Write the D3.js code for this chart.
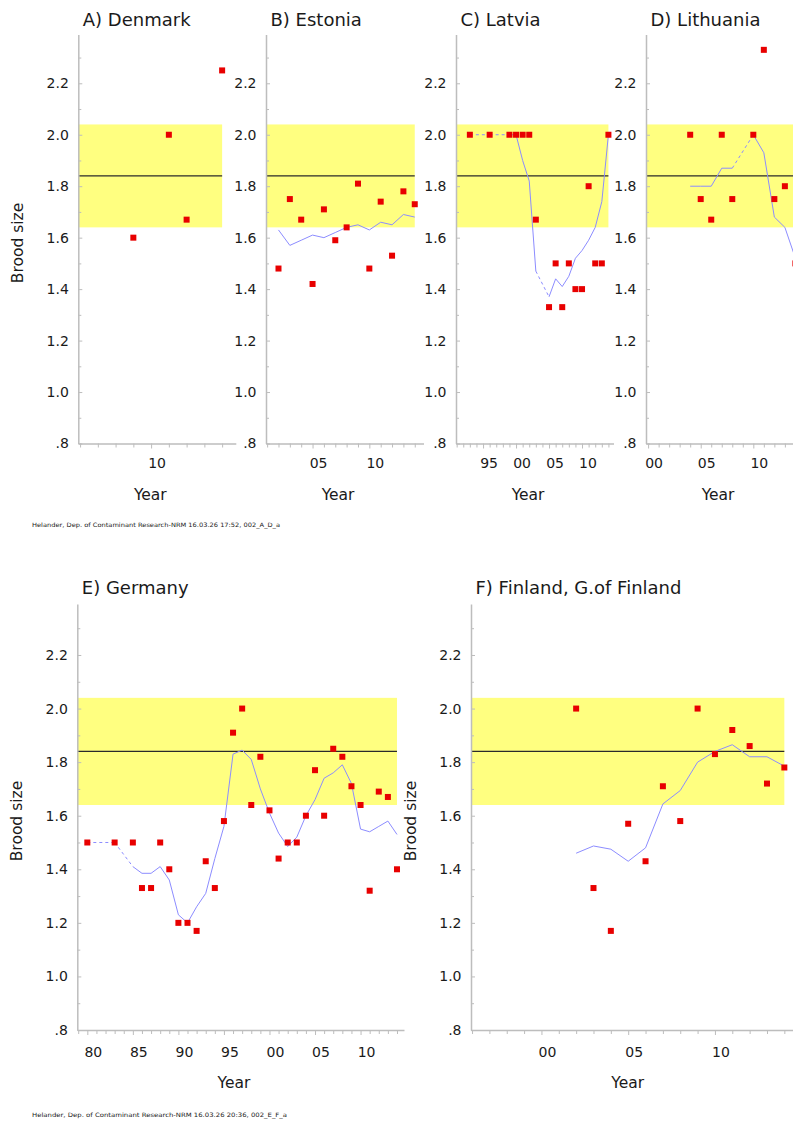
<!DOCTYPE html>
<html><head><meta charset="utf-8">
<script src="https://cdn.jsdelivr.net/npm/d3@7"></script>
<style>
html,body{margin:0;padding:0;background:#fff;}
text{font-family:"DejaVu Sans",sans-serif;fill:#1a1a1a;}
</style></head>
<body><div id="chart"></div>
<script>
// ---------------- data ----------------
const panelTitles = ["A) Denmark","B) Estonia","C) Latvia","D) Lithuania","E) Germany","F) Finland, G.of Finland"];

const denmarkYears  = [2009, 2011, 2012, 2014];
const denmarkValues = [1.60, 2.00, 1.67, 2.25];
const denmarkSmooth = [];

const estoniaYears  = [2002,2003,2004,2005,2006,2007,2008,2009,2010,2011,2012,2013,2014];
const estoniaValues = [1.48,1.75,1.67,1.42,1.71,1.59,1.64,1.81,1.48,1.74,1.53,1.78,1.73];
const estoniaSmooth = [1.63,1.57,1.59,1.61,1.60,1.62,1.64,1.65,1.63,1.66,1.65,1.69,1.68];

const latviaYears  = [1993,1996,1999,2000,2001,2002,2003,2005,2006,2007,2008,2009,2010,2011,2012,2013,2014];
const latviaValues = [2.00,2.00,2.00,2.00,2.00,2.00,1.67,1.33,1.50,1.33,1.50,1.40,1.40,1.80,1.50,1.50,2.00];
const latviaSmooth = [2.00,2.00,2.00,2.00,1.90,1.82,1.47,1.37,1.44,1.41,1.45,1.52,1.55,1.59,1.64,1.74,2.00];

const lithuaniaYears  = [2004,2005,2006,2007,2008,2010,2011,2012,2013,2014];
const lithuaniaValues = [2.00,1.75,1.67,2.00,1.75,2.00,2.33,1.75,1.80,1.50];
const lithuaniaSmooth = [1.80,1.80,1.80,1.87,1.87,2.00,1.93,1.68,1.64,1.52];

const germanyYears  = [1980,1983,1985,1986,1987,1988,1989,1990,1991,1992,1993,1994,1995,1996,1997,1998,1999,2000,2001,2002,2003,2004,2005,2006,2007,2008,2009,2010,2011,2012,2013,2014];
const germanyValues = [1.50,1.50,1.50,1.33,1.33,1.50,1.40,1.20,1.20,1.17,1.43,1.33,1.58,1.91,2.00,1.64,1.82,1.62,1.44,1.50,1.50,1.60,1.77,1.60,1.85,1.82,1.71,1.64,1.32,1.69,1.67,1.40];
const germanySmooth = [1.50,1.50,1.41,1.385,1.385,1.41,1.36,1.23,1.20,1.26,1.31,1.44,1.56,1.83,1.845,1.81,1.70,1.61,1.535,1.485,1.52,1.60,1.66,1.74,1.76,1.79,1.72,1.55,1.54,1.56,1.58,1.53];

const finlandYears  = [2002,2003,2004,2005,2006,2007,2008,2009,2010,2011,2012,2013,2014];
const finlandValues = [2.00,1.33,1.17,1.57,1.43,1.71,1.58,2.00,1.83,1.92,1.86,1.72,1.78];
const finlandSmooth = [1.46,1.487,1.475,1.43,1.48,1.644,1.694,1.80,1.84,1.865,1.82,1.82,1.785];

const axisStartYears = [2005.9, 2000.9, 1990.9, 1999.8, 1978.9, 1995.94];
const axisEndYear = 2014.77;

const yMajorTicks = [0.8,1.0,1.2,1.4,1.6,1.8,2.0,2.2];
const yMinorTicks = [0.9,1.1,1.3,1.5,1.7,1.9,2.1,2.3];
const yDomain = [0.8, 2.39];
const bandLow = 1.64, bandHigh = 2.04, refLine = 1.84;

const yLabel = "Brood size", xLabel = "Year";
const footers = ["Helander, Dep. of Contaminant Research-NRM  16.03.26  17:52, 002_A_D_a",
                 "Helander, Dep. of Contaminant Research-NRM  16.03.26  20:36, 002_E_F_a"];

// --------------- layout ----------------
const rows = [
  {yTop:34.4, yBot:443.5, width:157.5, tickLabelOff:24.8, yearOff:56.5, titleY:25.5, footerY:527, footerLen:248},
  {yTop:604.1, yBot:1030, width:326.7, tickLabelOff:26.7, yearOff:58.3, titleY:594.3, footerY:1117, footerLen:255}
];
const panels = [
  {row:0, x0:78.3, years:denmarkYears, values:denmarkValues, smooth:denmarkSmooth, ylab:true},
  {row:0, x0:266,  years:estoniaYears, values:estoniaValues, smooth:estoniaSmooth},
  {row:0, x0:456,  years:latviaYears, values:latviaValues, smooth:latviaSmooth},
  {row:0, x0:646,  years:lithuaniaYears, values:lithuaniaValues, smooth:lithuaniaSmooth},
  {row:1, x0:77.3, years:germanyYears, values:germanyValues, smooth:germanySmooth, ylab:true},
  {row:1, x0:471,  years:finlandYears, values:finlandValues, smooth:finlandSmooth, ylab:true}
];

const svg = d3.select("#chart").append("svg").attr("width",793).attr("height",1122);
const axisColor = "#bdbdbd";

panels.forEach((p,i)=>{
  const r = rows[p.row];
  const x = d3.scaleLinear().domain([axisStartYears[i], axisEndYear]).range([p.x0, p.x0 + r.width]);
  const y = d3.scaleLinear().domain(yDomain).range([r.yBot, r.yTop]);
  const g = svg.append("g");
  const lastYear = d3.max(p.years);

  // band + reference line
  g.append("rect").attr("x", x(axisStartYears[i])).attr("y", y(bandHigh))
    .attr("width", x(lastYear) - x(axisStartYears[i])).attr("height", y(bandLow) - y(bandHigh))
    .attr("fill", "#ffff80");
  g.append("line").attr("x1", x(axisStartYears[i])).attr("x2", x(lastYear))
    .attr("y1", y(refLine)).attr("y2", y(refLine)).attr("stroke","#2a2a2a").attr("stroke-width",1.4);

  // y axis
  const ya = g.append("g").attr("transform",`translate(${p.x0},0)`)
    .call(d3.axisLeft(y).tickValues(yMajorTicks).tickSizeInner(-4).tickSizeOuter(0).tickPadding(9.5)
      .tickFormat(v => Math.abs(v-0.8)<1e-9 ? ".8" : v.toFixed(1)));
  const yb = g.append("g").attr("transform",`translate(${p.x0},0)`)
    .call(d3.axisLeft(y).tickValues(yMinorTicks).tickSizeInner(-3).tickSizeOuter(0).tickFormat(""));
  yb.select(".domain").remove();
  [ya,yb].forEach(a=>{
    a.select(".domain").attr("stroke",axisColor).attr("stroke-width",1.5);
    a.selectAll(".tick line").attr("stroke",axisColor).attr("stroke-width",1);
  });
  ya.selectAll(".tick text").attr("font-size",14).attr("font-family","DejaVu Sans").attr("fill","#1a1a1a");

  // x axis
  const yrs = d3.range(Math.ceil(axisStartYears[i]), Math.floor(axisEndYear)+1);
  const majors = yrs.filter(v => v % 5 === 0);
  const minors = yrs.filter(v => v % 5 !== 0);
  const xa = g.append("g").attr("transform",`translate(0,${r.yBot})`)
    .call(d3.axisBottom(x).tickValues(majors).tickSizeInner(5).tickSizeOuter(0)
      .tickFormat(v => String(v % 100).padStart(2,"0")));
  const xb = g.append("g").attr("transform",`translate(0,${r.yBot})`)
    .call(d3.axisBottom(x).tickValues(minors).tickSizeInner(4).tickSizeOuter(0).tickFormat(""));
  xb.select(".domain").remove();
  [xa,xb].forEach(a=>{
    a.select(".domain").attr("stroke",axisColor).attr("stroke-width",1.5);
    a.selectAll(".tick line").attr("stroke",axisColor).attr("stroke-width",1);
  });
  xa.selectAll(".tick text").attr("font-size",14).attr("font-family","DejaVu Sans").attr("fill","#1a1a1a")
    .attr("y", r.tickLabelOff).attr("dy", null).attr("dx", 5.5);

  // smoothed line, dashed across gaps
  if (p.smooth.length > 1) {
    for (let k = 1; k < p.years.length; k++) {
      const gap = p.years[k] - p.years[k-1] > 1;
      g.append("line")
        .attr("x1", x(p.years[k-1])).attr("y1", y(p.smooth[k-1]))
        .attr("x2", x(p.years[k])).attr("y2", y(p.smooth[k]))
        .attr("stroke","#8c8cff").attr("stroke-width",1)
        .attr("stroke-dasharray", gap ? "3,3" : null);
    }
  }

  // points
  g.selectAll("rect.pt").data(p.years.map((yr,k)=>({yr, v:p.values[k]}))).enter()
    .append("rect").attr("class","pt")
    .attr("x", d => x(d.yr) - 3).attr("y", d => y(d.v) - 3)
    .attr("width", 6).attr("height", 6).attr("fill", "#e80000");

  // title
  g.append("text").attr("x", p.x0 + 4.5).attr("y", r.titleY).attr("font-size", 18).text(panelTitles[i]);
  // year label
  g.append("text").attr("x", p.x0 + r.width/2 - 6.7).attr("y", r.yBot + r.yearOff)
    .attr("text-anchor","middle").attr("font-size",15.5).text(xLabel);
  // y label
  if (p.ylab) {
    const cy = (r.yTop + r.yBot)/2 + 4;
    g.append("text").attr("transform",`translate(${p.x0 - 55},${cy}) rotate(-90)`)
      .attr("text-anchor","middle").attr("font-size",15.5).text(yLabel);
  }
});

rows.forEach((r,k)=>{
  svg.append("text").attr("x",32).attr("y",r.footerY).attr("font-size",6)
    .attr("textLength", r.footerLen).attr("lengthAdjust","spacingAndGlyphs")
    .attr("fill","#333").text(footers[k]);
});
</script></body></html>
